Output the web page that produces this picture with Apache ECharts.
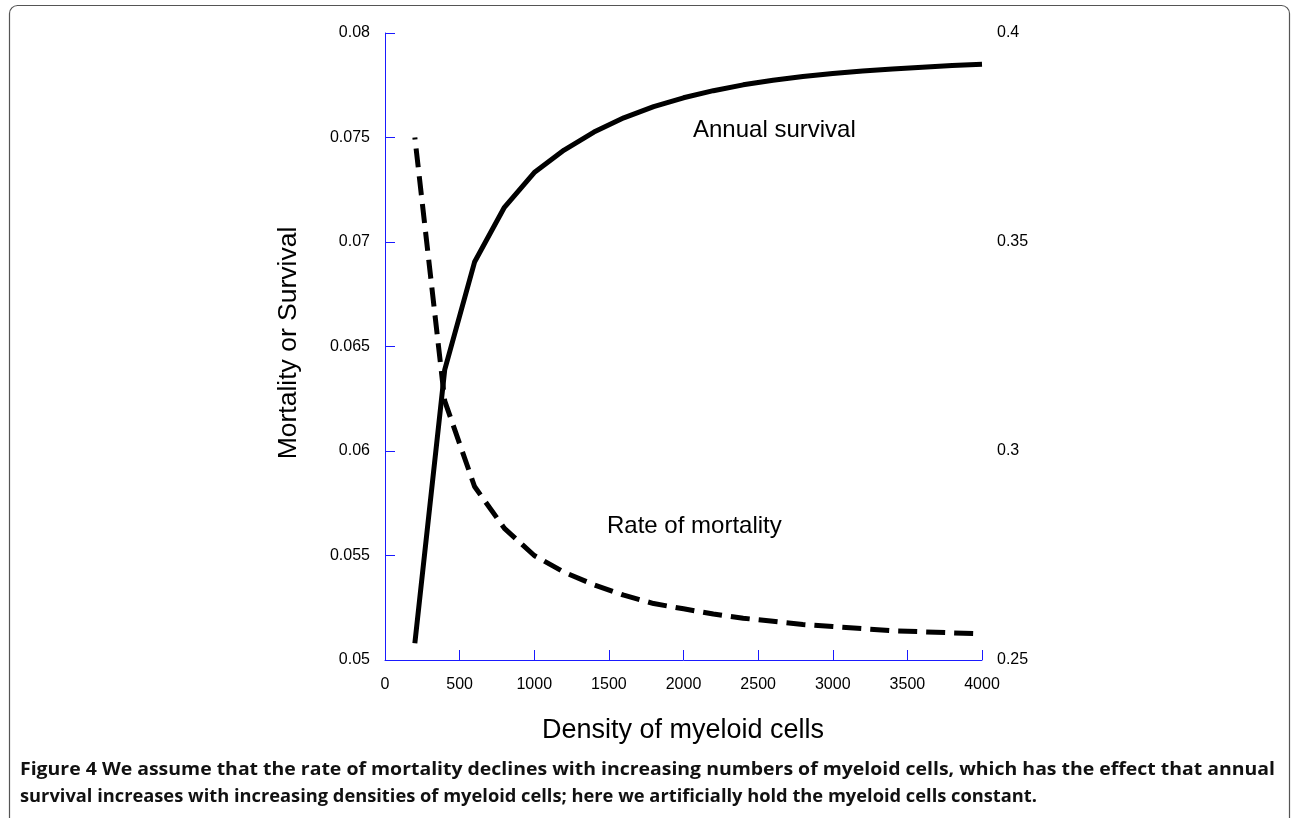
<!DOCTYPE html>
<html>
<head>
<meta charset="utf-8">
<script src="https://cdn.jsdelivr.net/npm/echarts@6/dist/echarts.min.js"></script>
<style>
html,body{margin:0;padding:0;background:#fff;}
#chart{width:1291px;height:818px;}
</style>
</head>
<body>
<div id="chart"></div>
<script>
// Data
var density = [200, 400, 600, 800, 1000, 1200, 1400, 1600, 1800, 2000, 2200, 2400, 2600, 2800, 3000, 3200, 3400, 3600, 3800, 4000];
var mortality = [0.0750, 0.0624, 0.0583, 0.0563, 0.0550, 0.0542, 0.0536, 0.0531, 0.0527, 0.05245, 0.0522, 0.0520, 0.05185, 0.0517, 0.0516, 0.0515, 0.0514, 0.05135, 0.0513, 0.05125];
var survival = [0.254, 0.3194, 0.3452, 0.3583, 0.3666, 0.3720, 0.3763, 0.3797, 0.3824, 0.3845, 0.3862, 0.3876, 0.3887, 0.3896, 0.3903, 0.3909, 0.3914, 0.3918, 0.3922, 0.3925];
var xTicks = [0, 500, 1000, 1500, 2000, 2500, 3000, 3500, 4000];
var leftTicks = [0.05, 0.055, 0.06, 0.065, 0.07, 0.075, 0.08];
var rightTicks = [0.25, 0.3, 0.35, 0.4];
var xTitle = 'Density of myeloid cells';
var yTitle = 'Mortality or Survival';
var survivalLabel = 'Annual survival';
var mortalityLabel = 'Rate of mortality';
var captionLine1 = 'Figure 4 We assume that the rate of mortality declines with increasing numbers of myeloid cells, which has the effect that annual';
var captionLine2 = 'survival increases with increasing densities of myeloid cells; here we artificially hold the myeloid cells constant.';

function pairs(xs, ys){ return xs.map(function(x,i){ return [x, ys[i]]; }); }
function fmt(v){ return String(Math.round(v*10000)/10000); }

var FONT = '"Liberation Sans", Arial, Helvetica, sans-serif';
var CAP_FONT = 'bold 18px "Open Sans", sans-serif';
var BLUE = '#1a1aff';

// horizontal fit for caption lines (target widths measured on reference)
var mctx = document.createElement('canvas').getContext('2d');
mctx.font = CAP_FONT;
function fitScale(text, target){ var w = mctx.measureText(text).width; return w > 0 ? target / w : 1; }
var cap1Scale = fitScale(captionLine1, 1255);
var cap2Scale = fitScale(captionLine2, 1017);

var chart = echarts.init(document.getElementById('chart'), null, {renderer:'canvas'});
chart.setOption({
  animation: false,
  backgroundColor: '#ffffff',
  grid: {left: 385, right: 309, top: 33, bottom: 158, containLabel: false},
  xAxis: {
    type: 'value', min: xTicks[0], max: xTicks[xTicks.length-1], interval: xTicks[1]-xTicks[0],
    axisLine: {show: true, lineStyle: {color: BLUE, width: 1}},
    axisTick: {show: true, inside: true, length: 10, lineStyle: {color: BLUE, width: 1}},
    axisLabel: {show: true, margin: 17, color: '#000', fontFamily: FONT, fontSize: 16, formatter: fmt},
    splitLine: {show: false}
  },
  yAxis: [{
    type: 'value', position: 'left', min: leftTicks[0], max: leftTicks[leftTicks.length-1], interval: 0.005,
    axisLine: {show: true, lineStyle: {color: BLUE, width: 1}},
    axisTick: {show: true, inside: true, length: 10, lineStyle: {color: BLUE, width: 1}},
    axisLabel: {show: true, margin: 15, color: '#000', fontFamily: FONT, fontSize: 16, formatter: fmt},
    splitLine: {show: false}
  },{
    type: 'value', position: 'right', min: rightTicks[0], max: rightTicks[rightTicks.length-1], interval: 0.05,
    axisLine: {show: false},
    axisTick: {show: false},
    axisLabel: {show: true, margin: 15, color: '#000', fontFamily: FONT, fontSize: 16, formatter: fmt},
    splitLine: {show: false}
  }],
  series: [{
    type: 'line', yAxisIndex: 1, data: pairs(density, survival),
    showSymbol: false, symbol: 'none', smooth: false,
    lineStyle: {color: '#000', width: 5, cap: 'butt', join: 'round'}
  },{
    type: 'line', yAxisIndex: 0, data: pairs(density, mortality),
    showSymbol: false, symbol: 'none', smooth: false,
    lineStyle: {color: '#000', width: 5, type: [19, 9], dashOffset: 17, cap: 'butt', join: 'round'}
  }],
  graphic: [
    {type: 'rect', silent: true, shape: {x: 9.5, y: 5.5, width: 1280, height: 900, r: [8, 8, 0, 0]},
     style: {fill: 'none', stroke: '#555', lineWidth: 1.2}},
    {type: 'text', x: 683, y: 731, silent: true,
     style: {text: xTitle, font: '27px ' + FONT, fill: '#000', textAlign: 'center', textVerticalAlign: 'middle'}},
    {type: 'text', x: 289, y: 343, rotation: Math.PI/2, silent: true,
     style: {text: yTitle, font: '26.5px ' + FONT, fill: '#000', textAlign: 'center', textVerticalAlign: 'middle'}},
    {type: 'text', x: 693, y: 130.5, silent: true,
     style: {text: survivalLabel, font: '24px ' + FONT, fill: '#000', textAlign: 'left', textVerticalAlign: 'middle'}},
    {type: 'text', x: 607, y: 526, silent: true,
     style: {text: mortalityLabel, font: '24px ' + FONT, fill: '#000', textAlign: 'left', textVerticalAlign: 'middle'}},
    {type: 'text', x: 20, y: 770, scaleX: cap1Scale, silent: true,
     style: {text: captionLine1, font: CAP_FONT, fill: '#111', textAlign: 'left', textVerticalAlign: 'middle'}},
    {type: 'text', x: 20, y: 797, scaleX: cap2Scale, silent: true,
     style: {text: captionLine2, font: CAP_FONT, fill: '#111', textAlign: 'left', textVerticalAlign: 'middle'}}
  ]
});
</script>
</body>
</html>
